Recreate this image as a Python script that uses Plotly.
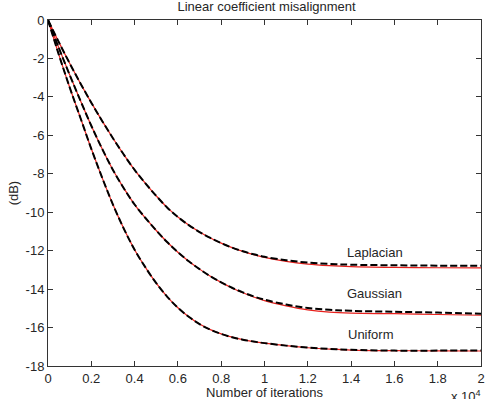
import plotly.graph_objects as go

# x in units of 10^4 iterations
iters = [0, 0.05, 0.1, 0.15, 0.2, 0.25, 0.3, 0.35, 0.4, 0.45, 0.5, 0.55, 0.6, 0.65, 0.7, 0.75,
         0.8, 0.85, 0.9, 0.95, 1.0, 1.1, 1.2, 1.3, 1.4, 1.6, 1.8, 2.0]

# black dashed curves
lap_dash = [0, -1.15, -2.25, -3.3, -4.3, -5.25, -6.15, -7.0, -7.8, -8.5, -9.15, -9.75, -10.25, -10.67, -11.03, -11.34,
            -11.61, -11.84, -12.03, -12.19, -12.32, -12.5, -12.62, -12.69, -12.73, -12.76, -12.78, -12.79]
gau_dash = [0, -1.45, -2.85, -4.2, -5.5, -6.7, -7.8, -8.75, -9.6, -10.3, -10.95, -11.55, -12.08, -12.55, -12.96, -13.33,
            -13.65, -13.93, -14.17, -14.38, -14.55, -14.8, -14.98, -15.08, -15.13, -15.18, -15.22, -15.28]
uni_dash = [0, -1.8, -3.5, -5.1, -6.7, -8.2, -9.6, -10.85, -11.95, -12.87, -13.69, -14.39, -14.97, -15.44, -15.82, -16.11,
            -16.33, -16.5, -16.63, -16.73, -16.81, -16.94, -17.04, -17.11, -17.16, -17.2, -17.2, -17.2]

# red solid curves
lap_red = [0, -1.15, -2.25, -3.3, -4.3, -5.25, -6.15, -7.0, -7.8, -8.5, -9.15, -9.75, -10.25, -10.67, -11.03, -11.34,
           -11.61, -11.84, -12.04, -12.21, -12.35, -12.56, -12.7, -12.78, -12.83, -12.87, -12.89, -12.9]
gau_red = [0, -1.45, -2.85, -4.2, -5.5, -6.7, -7.8, -8.75, -9.6, -10.3, -10.95, -11.55, -12.08, -12.55, -12.96, -13.33,
           -13.65, -13.94, -14.19, -14.41, -14.6, -14.87, -15.08, -15.2, -15.25, -15.28, -15.32, -15.36]
uni_red = [0, -1.8, -3.5, -5.1, -6.7, -8.2, -9.6, -10.85, -11.95, -12.87, -13.69, -14.39, -14.97, -15.44, -15.82, -16.11,
           -16.33, -16.5, -16.63, -16.73, -16.81, -16.94, -17.05, -17.12, -17.17, -17.2, -17.21, -17.22]

labels = ["Laplacian", "Gaussian", "Uniform"]
label_x = [1.51, 1.51, 1.49]
label_y = [-12.1, -14.23, -16.36]

x_ticks = [0, 0.2, 0.4, 0.6, 0.8, 1, 1.2, 1.4, 1.6, 1.8, 2]
x_ticktext = ["0", "0.2", "0.4", "0.6", "0.8", "1", "1.2", "1.4", "1.6", "1.8", "2"]
y_ticks = [0, -2, -4, -6, -8, -10, -12, -14, -16, -18]
y_ticktext = ["0", "-2", "-4", "-6", "-8", "-10", "-12", "-14", "-16", "-18"]

FONT = "Arial, Liberation Sans, sans-serif"
TXT = "#262626"
AX = "#333333"

fig = go.Figure()
for ys in (lap_red, gau_red, uni_red):
    fig.add_trace(go.Scatter(x=iters, y=ys, mode="lines", line=dict(color="#e8201c", width=1.2, shape="spline"),
                             showlegend=False, hoverinfo="skip"))
for ys in (lap_dash, gau_dash, uni_dash):
    fig.add_trace(go.Scatter(x=iters, y=ys, mode="lines",
                             line=dict(color="black", width=2, dash="7px,3px", shape="spline"),
                             showlegend=False, hoverinfo="skip"))

for t, lx, ly in zip(labels, label_x, label_y):
    fig.add_annotation(x=lx, y=ly, text=t, showarrow=False, xanchor="center", yanchor="middle",
                       font=dict(family=FONT, size=13, color=TXT))

fig.add_annotation(xref="paper", yref="paper", x=0.5, y=-0.078, text="Number of iterations", showarrow=False,
                   xanchor="center", yanchor="middle", font=dict(family=FONT, size=13, color=TXT))
fig.add_annotation(xref="paper", yref="paper", x=-0.08, y=0.5, text="(dB)", textangle=-90, showarrow=False,
                   xanchor="center", yanchor="middle", font=dict(family=FONT, size=13, color=TXT))
fig.add_annotation(xref="paper", yref="paper", x=1.005, y=-0.087, text="x 10<sup>4</sup>", showarrow=False,
                   xanchor="right", yanchor="middle", font=dict(family=FONT, size=13, color=TXT))

fig.update_layout(
    width=490, height=399,
    margin=dict(l=48, r=5, t=20, b=33),
    paper_bgcolor="white", plot_bgcolor="white",
    title=dict(text="Linear coefficient misalignment", x=0.544, xanchor="center", y=0.985, yanchor="middle",
               font=dict(family=FONT, size=13, color=TXT)),
    xaxis=dict(range=[0, 2], tickvals=x_ticks, ticktext=x_ticktext, ticks="inside", ticklen=5, tickcolor=AX,
               showline=True, linecolor=AX, linewidth=1, mirror="ticks", showgrid=False, zeroline=False,
               tickfont=dict(family=FONT, size=13, color=TXT)),
    yaxis=dict(range=[-18, 0], tickvals=y_ticks, ticktext=y_ticktext, ticks="inside", ticklen=5, tickcolor=AX,
               showline=True, linecolor=AX, linewidth=1, mirror="ticks", showgrid=False, zeroline=False,
               tickfont=dict(family=FONT, size=13, color=TXT)),
)

fig.write_html("out.html")
